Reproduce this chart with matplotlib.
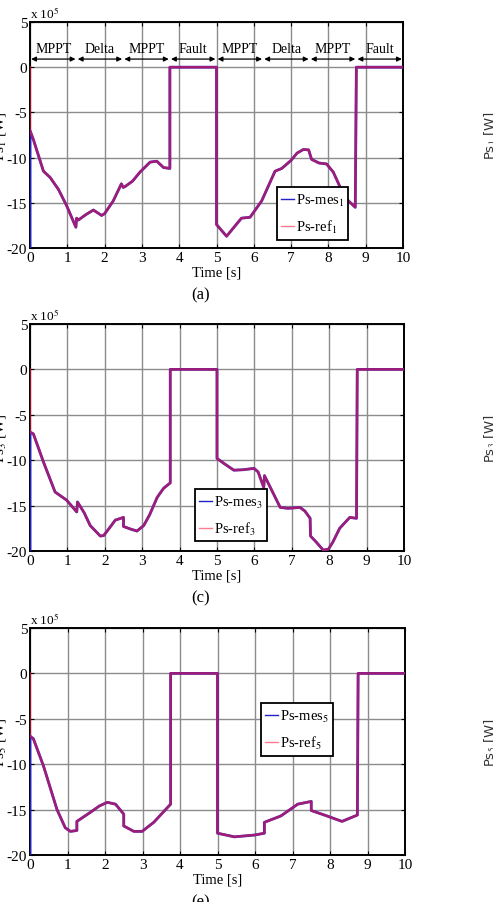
import matplotlib
matplotlib.use("Agg")
import matplotlib.pyplot as plt

plt.rcParams['font.family'] = ['Liberation Serif', 'DejaVu Serif']
plt.rcParams['mathtext.fontset'] = 'stix'

# ---------------- data (values in units of 1e5 W) ----------------
mes_start = -20.0
ref_start = 0.0

t_a = [0, 0, 0.09, 0.36, 0.54, 0.76, 0.98, 1.23, 1.25, 1.3, 1.5, 1.70, 1.92, 2.0, 2.23,
       2.45, 2.5, 2.55, 2.75, 2.95, 3.22, 3.4, 3.58, 3.75, 3.75, 5.0, 5.0, 5.27, 5.45, 5.67,
       5.9, 6.21, 6.57, 6.75, 7.0, 7.16, 7.33, 7.47, 7.55, 7.75, 7.95, 8.13, 8.44, 8.72, 8.75, 10]
v_a = [-7.0, -8.0, -11.5, -12.2, -13.5, -15.3, -17.7, -16.7, -16.9, -16.3, -15.8, -16.4,
       -16.2, -14.8, -12.9, -13.3, -13.2, -12.6, -11.6, -10.5, -10.4, -11.1, -11.2, 0, 0,
       -17.4, -18.7, -17.8, -16.7, -16.6, -14.8, -11.5, -11.2, -10.3, -9.5, -9.1, -9.15,
       -10.2, -10.6, -10.7, -11.6, -14.4, -15.5, 0, 0]

t_c = [0, 0, 0.09, 0.36, 0.67, 0.98, 1.25, 1.27, 1.45, 1.61, 1.88, 1.97, 2.1, 2.28, 2.5, 2.5,
       2.7, 2.86, 3.04, 3.2, 3.4, 3.57, 3.75, 3.75, 5.0, 5.0, 5.2, 5.45, 5.7, 5.99, 6.1, 6.25,
       6.27, 6.45, 6.69, 6.9, 7.22, 7.35, 7.49, 7.5, 7.65, 7.84, 7.98, 8.1, 8.28, 8.55, 8.73,
       8.75, 10]
v_c = [-6.9, -7.1, -10.2, -13.5, -14.4, -15.7, -14.6, -15.8, -17.2, -18.35, -18.3, -17.6,
       -16.6, -16.3, -17.3, -17.6, -17.8, -17.2, -16.0, -14.1, -13.1, -12.5, 0, 0, -9.8,
       -10.4, -11.1, -11.05, -10.9, -11.3, -13.0, -11.7, -13.2, -15.2, -15.3, -15.2, -15.6,
       -16.4, -18.35, -19.0, -19.9, -19.8, -19.0, -17.5, -16.3, -16.4, 0, 0]

t_e = [0, 0, 0.09, 0.36, 0.72, 0.94, 1.08, 1.25, 1.25, 1.61, 1.85, 2.06, 2.28, 2.5, 2.5, 2.77,
       2.99, 3.3, 3.75, 3.75, 5.0, 5.0, 5.45, 5.99, 6.25, 6.25, 6.69, 7.14, 7.5, 7.5, 7.92,
       8.32, 8.73, 8.75, 10]
v_e = [-6.9, -7.2, -10.2, -15.0, -17.0, -17.4, -17.3, -16.3, -15.3, -14.6, -14.2, -14.4,
       -15.5, -16.8, -17.4, -17.4, -16.4, -14.4, 0, 0, -17.6, -18.0, -17.8, -17.6, -16.4,
       -15.7, -14.4, -14.1, -15.1, -15.7, -16.3, -15.6, 0, 0]

phase_bounds = [0, 1.25, 2.5, 3.75, 5.0, 6.25, 7.5, 8.75, 10]
phase_names = ["MPPT", "Delta", "MPPT", "Fault", "MPPT", "Delta", "MPPT", "Fault"]

x_ticks = list(range(0, 11))
y_ticks = [5, 0, -5, -10, -15, -20]

panels = [
    dict(t=t_a, v=v_a, idx="1", tag="(a)", box=(30, 403, 23, 249), leg=(6.61, -13.3)),
    dict(t=t_c, v=v_c, idx="3", tag="(c)", box=(30, 404, 325, 552), leg=(4.40, -13.2)),
    dict(t=t_e, v=v_e, idx="5", tag="(e)", box=(30, 405, 629, 856), leg=(6.15, -3.3)),
]

W, H = 493, 903
fig = plt.figure(figsize=(W / 100, H / 100), dpi=100)
FS = 9.5

for p in panels:
    l, r, t, b = p["box"]
    ax = fig.add_axes([l / W, 1 - b / H, (r - l) / W, (b - t) / H])
    mes = [mes_start] + p["v"]
    ref = [ref_start] + p["v"]
    ax.plot(p["t"], mes, color="#2020c8", lw=2.0, label="Ps-mes$_{%s}$" % p["idx"], zorder=3)
    ax.plot(p["t"], ref, color="#ff1a3c", lw=1.8, alpha=0.58, label="Ps-ref$_{%s}$" % p["idx"], zorder=4)
    ax.set_xlim(0, 10)
    ax.set_ylim(-20, 5)
    ax.set_xticks(x_ticks)
    ax.set_yticks(y_ticks)
    ax.set_xticklabels([str(x) for x in x_ticks], fontsize=FS + 1.5)
    ax.set_yticklabels([str(y) for y in y_ticks], fontsize=FS + 1.5)
    ax.tick_params(direction="in", length=3, width=0.8, top=True, right=True, pad=2)
    ax.grid(True, color="#8c8c8c", lw=1.0)
    ax.set_axisbelow(True)
    for s in ax.spines.values():
        s.set_linewidth(1.4)
    ax.text(0.0, 1.005, r"x 10$^5$", transform=ax.transAxes, fontsize=FS, ha="left", va="bottom")
    ax.set_xlabel("Time [s]", fontsize=FS + 1, labelpad=1)
    leg = ax.legend(loc="upper left", bbox_to_anchor=p["leg"], bbox_transform=ax.transData,
                    fontsize=FS + 1, frameon=True, fancybox=False, handlelength=0.9,
                    handletextpad=0.1, borderpad=0.3, labelspacing=0.7, borderaxespad=0)
    for h in leg.legend_handles:
        h.set_linewidth(1.0)
    leg.get_frame().set_edgecolor("black")
    leg.get_frame().set_linewidth(1.3)
    leg.get_frame().set_alpha(1)
    # panel tag
    fig.text(201 / W, 1 - (b + 46) / H, p["tag"], fontsize=FS + 2.5, ha="center", va="center")
    # cut-off y labels (left, and from the neighbouring column on the right)
    fig.text(0 / W, 1 - ((t + b) / 2) / H, r"Ps$_{%s}$ [W]" % p["idx"], rotation=90,
             fontsize=FS + 1.5, ha="center", va="center")
    fig.text(490 / W, 1 - ((t + b) / 2) / H, r"Ps$_{%s}$ [W]" % p["idx"], rotation=90,
             fontsize=FS, ha="center", va="center", color="#333333", family="DejaVu Sans")
    if p["tag"] == "(a)":
        for k, name in enumerate(phase_names):
            x0, x1 = phase_bounds[k], phase_bounds[k + 1]
            ax.annotate("", xy=(x0 + 0.03, 0.9), xytext=(x1 - 0.03, 0.9),
                        arrowprops=dict(arrowstyle="<|-|>", color="black", lw=0.9,
                                        mutation_scale=7, shrinkA=0, shrinkB=0))
            ax.text((x0 + x1) / 2, 1.3, name, fontsize=FS + 0.5, ha="center", va="bottom")

fig.savefig("out.png", dpi=100)
